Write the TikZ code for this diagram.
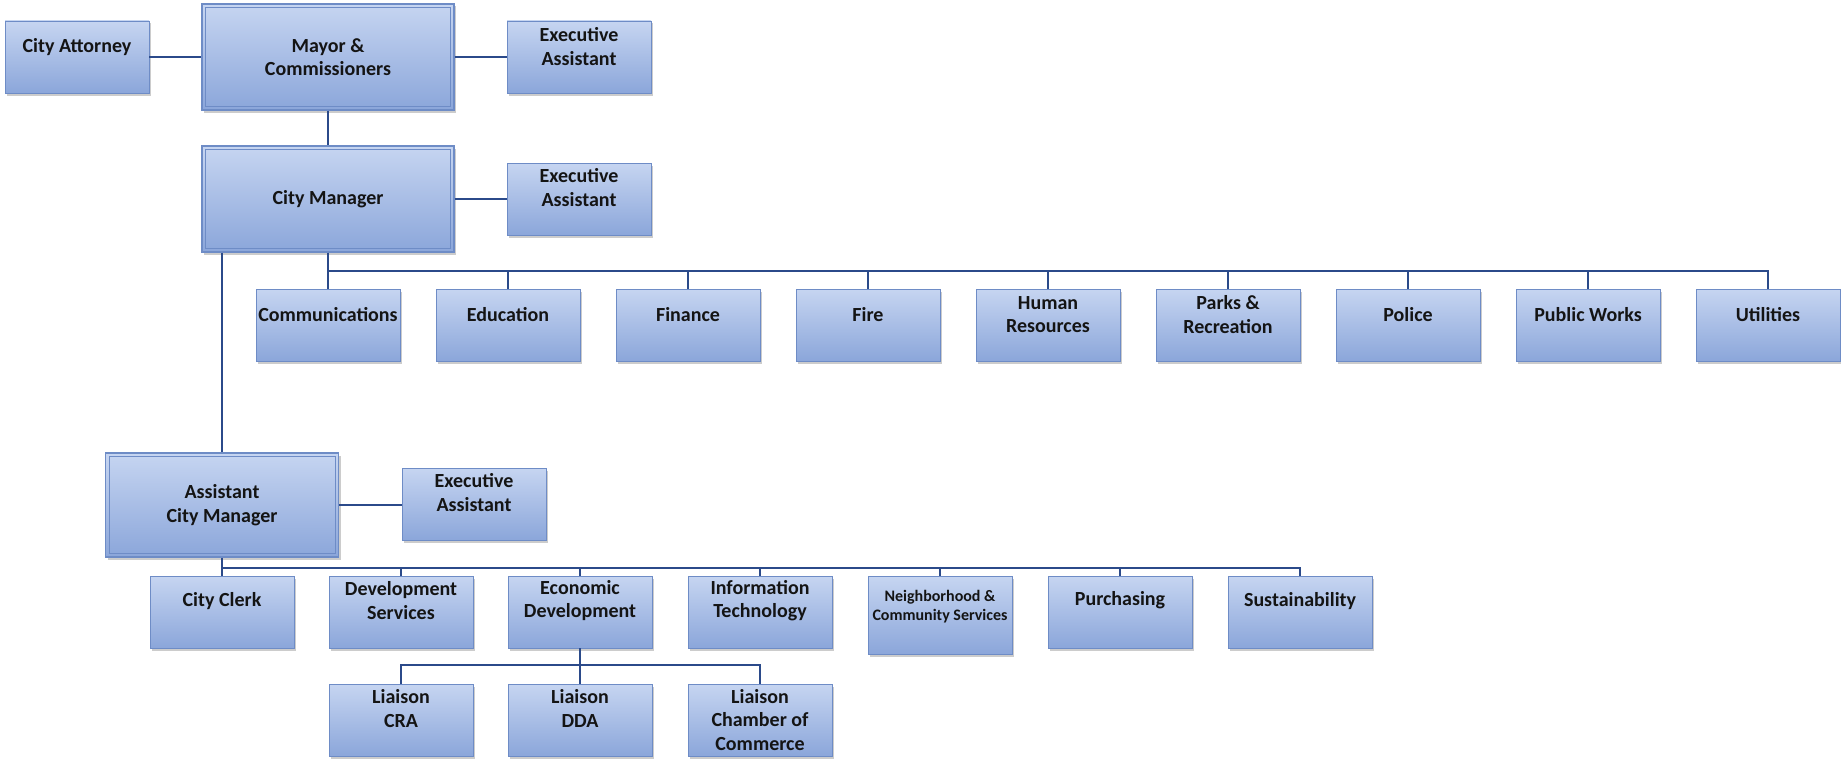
\documentclass[tikz,border=0pt]{standalone}
\usepackage{fontspec}
\setmainfont{Carlito}
\usepackage{tikz}
\usetikzlibrary{shadows}
\definecolor{boxtop}{HTML}{C6D5F1}
\definecolor{boxbot}{HTML}{8BA6DA}
\definecolor{boxline}{HTML}{6E8CC6}
\definecolor{linkblue}{HTML}{2B4A8A}
\definecolor{ink}{HTML}{141414}

\begin{document}
\begin{tikzpicture}[x=1pt,y=-1pt,
	unit/.style={rectangle,draw=boxline,line width=0.8pt,top color=boxtop,bottom color=boxbot,minimum width=144pt,minimum height=72pt,inner sep=0pt,drop shadow={shadow xshift=2pt,shadow yshift=-2.5pt,opacity=0.4}},
	txt/.style={font=\fontsize{20}{23.5}\selectfont\bfseries,text=ink,align=center,inner sep=0pt},
	head/.style={unit,txt,minimum width=252pt,minimum height=106pt,line width=1.2pt},
	rim/.style={draw=boxline,line width=0.8pt},
	small/.style={txt,font=\fontsize{16}{19.5}\selectfont\bfseries},
	link/.style={draw=linkblue,line width=2.2pt}]
		\useasboundingbox (0,0) rectangle (1841,760);
		\node[head] (mayor) at (328,57) {Mayor \&\\Commissioners};
		\draw[rim] ([shift={(4pt,-4pt)}]mayor.north west) rectangle ([shift={(-4pt,4pt)}]mayor.south east);
		\node[head] (manager) at (328,199) {City Manager};
		\draw[rim] ([shift={(4pt,-4pt)}]manager.north west) rectangle ([shift={(-4pt,4pt)}]manager.south east);
		\node[head,minimum width=233pt,minimum height=104pt] (acm) at (222,505) {Assistant\\City Manager};
		\draw[rim] ([shift={(4pt,-4pt)}]acm.north west) rectangle ([shift={(-4pt,4pt)}]acm.south east);
		\node[unit] (attorney) at (77,57) {};
		\node[unit] (execA) at (579,57) {};
		\node[unit] (execB) at (579,199) {};
		\node[unit] (execC) at (474,504) {};
		\node[txt] (attorney-t) at ([yshift=-26pt]attorney.north) {City Attorney};
		\node[txt] (execA-t) at ([yshift=-26pt]execA.north) {Executive\\Assistant};
		\node[txt] (execB-t) at ([yshift=-25pt]execB.north) {Executive\\Assistant};
		\node[txt] (execC-t) at ([yshift=-25pt]execC.north) {Executive\\Assistant};
		\node[unit] (comm) at (328,325) {};
		\node[unit] (edu) at (508,325) {};
		\node[unit] (fin) at (688,325) {};
		\node[unit] (fire) at (868,325) {};
		\node[unit] (hr) at (1048,325) {};
		\node[unit] (parks) at (1228,325) {};
		\node[unit] (police) at (1408,325) {};
		\node[unit] (pw) at (1588,325) {};
		\node[unit] (util) at (1768,325) {};
		\node[txt] (comm-t) at ([yshift=-26pt]comm.north) {Communications};
		\node[txt] (edu-t) at ([yshift=-26pt]edu.north) {Education};
		\node[txt] (fin-t) at ([yshift=-26pt]fin.north) {Finance};
		\node[txt] (fire-t) at ([yshift=-26pt]fire.north) {Fire};
		\node[txt] (hr-t) at ([yshift=-26pt]hr.north) {Human\\Resources};
		\node[txt] (parks-t) at ([yshift=-26pt]parks.north) {Parks \&\\Recreation};
		\node[txt] (police-t) at ([yshift=-26pt]police.north) {Police};
		\node[txt] (pw-t) at ([yshift=-26pt]pw.north) {Public Works};
		\node[txt] (util-t) at ([yshift=-26pt]util.north) {Utilities};
		\node[unit] (clerk) at (222,612) {};
		\node[unit] (devsvc) at (401,612) {};
		\node[unit] (econ) at (580,612) {};
		\node[unit] (it) at (760,612) {};
		\node[unit,minimum height=78pt] (nbhd) at (940,615) {};
		\node[unit] (purch) at (1120,612) {};
		\node[unit] (sustain) at (1300,612) {};
		\node[txt] (clerk-t) at ([yshift=-25pt]clerk.north) {City Clerk};
		\node[txt] (devsvc-t) at ([yshift=-25pt]devsvc.north) {Development\\Services};
		\node[txt] (econ-t) at ([yshift=-25pt]econ.north) {Economic\\Development};
		\node[txt] (it-t) at ([yshift=-25pt]it.north) {Information\\Technology};
		\node[small] (nbhd-t) at ([yshift=-31pt]nbhd.north) {Neighborhood \&\\Community Services};
		\node[txt] (purch-t) at ([yshift=-25pt]purch.north) {Purchasing};
		\node[txt] (sustain-t) at ([yshift=-25pt]sustain.north) {Sustainability};
		\node[unit] (cra) at (401,720) {};
		\node[unit] (dda) at (580,720) {};
		\node[unit] (chamber) at (760,720) {};
		\node[txt] (cra-t) at ([yshift=-25pt]cra.north) {Liaison\\CRA};
		\node[txt] (dda-t) at ([yshift=-25pt]dda.north) {Liaison\\DDA};
		\node[txt] (chamber-t) at ([yshift=-36pt]chamber.north) {Liaison\\Chamber of\\Commerce};
		\coordinate (busA) at (328,271);
		\coordinate (busB) at (222,568);
		\coordinate (busC) at (580,665);
		\draw[link] (attorney) -- (mayor);
		\draw[link] (mayor) -- (execA);
		\draw[link] (mayor) -- (manager);
		\draw[link] (manager) -- (execB);
		\draw[link] (manager.south -| acm.north) -- (acm.north);
		\draw[link] (acm) -- (execC.west |- acm);
		\draw[link] (manager) -- (busA) -| (util);
		\draw[link] (busA -| edu) -- (edu);
		\draw[link] (busA -| fin) -- (fin);
		\draw[link] (busA -| fire) -- (fire);
		\draw[link] (busA -| hr) -- (hr);
		\draw[link] (busA -| parks) -- (parks);
		\draw[link] (busA -| police) -- (police);
		\draw[link] (busA -| pw) -- (pw);
		\draw[link] (busA) -- (comm);
		\draw[link] (acm) -- (busB) -| (sustain);
		\draw[link] (busB) -- (clerk);
		\draw[link] (busB -| devsvc) -- (devsvc);
		\draw[link] (busB -| econ) -- (econ);
		\draw[link] (busB -| it) -- (it);
		\draw[link] (busB -| nbhd) -- (nbhd);
		\draw[link] (busB -| purch) -- (purch);
		\draw[link] (econ) -- (busC);
		\draw[link] (cra) |- (busC) -| (chamber);
		\draw[link] (busC) -- (dda);
\end{tikzpicture}
\end{document}
